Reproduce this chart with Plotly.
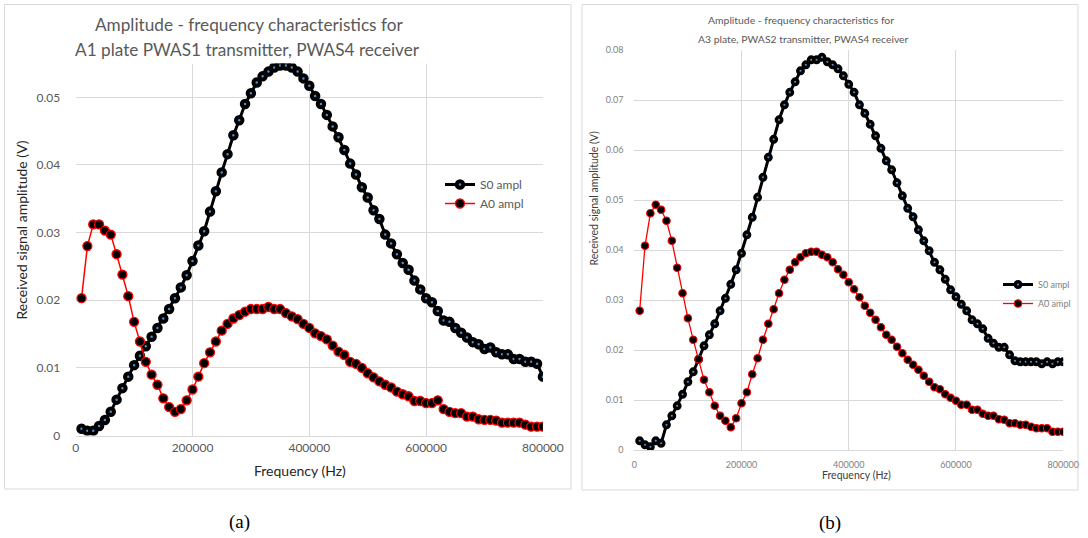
import plotly.graph_objects as go

W, H = 1088, 538

# ---------------- data ----------------
freq_hz = [10000, 20000, 30000, 40000, 50000, 60000, 70000, 80000, 90000, 100000,
           110000, 120000, 130000, 140000, 150000, 160000, 170000, 180000, 190000, 200000,
           210000, 220000, 230000, 240000, 250000, 260000, 270000, 280000, 290000, 300000,
           310000, 320000, 330000, 340000, 350000, 360000, 370000, 380000, 390000, 400000,
           410000, 420000, 430000, 440000, 450000, 460000, 470000, 480000, 490000, 500000,
           510000, 520000, 530000, 540000, 550000, 560000, 570000, 580000, 590000, 600000,
           610000, 620000, 630000, 640000, 650000, 660000, 670000, 680000, 690000, 700000,
           710000, 720000, 730000, 740000, 750000, 760000, 770000, 780000, 790000, 800000]

a1_s0 = [0.0010, 0.0007, 0.0007, 0.0014, 0.0023, 0.0035, 0.0053, 0.0070, 0.0087, 0.0104,
         0.0118, 0.0132, 0.0146, 0.0159, 0.0173, 0.0187, 0.0203, 0.0219, 0.0237, 0.0258,
         0.0281, 0.0302, 0.0331, 0.0361, 0.0389, 0.0416, 0.0444, 0.0466, 0.0490, 0.0506,
         0.0522, 0.0531, 0.0538, 0.0544, 0.0547, 0.0547, 0.0544, 0.0538, 0.0528, 0.0517,
         0.0502, 0.0490, 0.0474, 0.0457, 0.0441, 0.0422, 0.0402, 0.0386, 0.0367, 0.0352,
         0.0333, 0.0320, 0.0297, 0.0284, 0.0268, 0.0255, 0.0245, 0.0229, 0.0216, 0.0203,
         0.0197, 0.0184, 0.0170, 0.0168, 0.0159, 0.0152, 0.0145, 0.0138, 0.0135, 0.0128,
         0.0130, 0.0123, 0.0120, 0.0120, 0.0113, 0.0113, 0.0109, 0.0109, 0.0106, 0.0087]

a1_a0 = [0.0203, 0.0280, 0.0312, 0.0312, 0.0303, 0.0297, 0.0268, 0.0238, 0.0206, 0.0168,
         0.0139, 0.0109, 0.0090, 0.0075, 0.0055, 0.0042, 0.0035, 0.0039, 0.0052, 0.0068,
         0.0087, 0.0107, 0.0123, 0.0139, 0.0155, 0.0165, 0.0173, 0.0178, 0.0183, 0.0187,
         0.0187, 0.0187, 0.0190, 0.0187, 0.0187, 0.0181, 0.0176, 0.0172, 0.0165, 0.0159,
         0.0151, 0.0147, 0.0142, 0.0133, 0.0124, 0.0119, 0.0109, 0.0106, 0.0100, 0.0092,
         0.0086, 0.0080, 0.0075, 0.0071, 0.0065, 0.0061, 0.0058, 0.0051, 0.0051, 0.0048,
         0.0048, 0.0052, 0.0039, 0.0035, 0.0033, 0.0033, 0.0028, 0.0028, 0.0024, 0.0023,
         0.0023, 0.0022, 0.0019, 0.0019, 0.0019, 0.0019, 0.0016, 0.0013, 0.0013, 0.0013]

a3_s0 = [0.0019, 0.0011, 0.0007, 0.0019, 0.0014, 0.0051, 0.0069, 0.0089, 0.0112, 0.0137,
         0.0157, 0.0182, 0.0209, 0.0231, 0.0253, 0.0279, 0.0304, 0.0332, 0.0361, 0.0394,
         0.0431, 0.0466, 0.0506, 0.0546, 0.0586, 0.0622, 0.0661, 0.0691, 0.0716, 0.0737,
         0.0759, 0.0771, 0.0781, 0.0781, 0.0786, 0.0777, 0.0771, 0.0763, 0.0749, 0.0732,
         0.0716, 0.0691, 0.0674, 0.0652, 0.0629, 0.0604, 0.0579, 0.0561, 0.0535, 0.0509,
         0.0484, 0.0467, 0.0441, 0.0419, 0.0399, 0.0376, 0.0361, 0.0342, 0.0321, 0.0307,
         0.0292, 0.0279, 0.0261, 0.0253, 0.0243, 0.0224, 0.0214, 0.0206, 0.0206, 0.0191,
         0.0179, 0.0177, 0.0177, 0.0177, 0.0177, 0.0173, 0.0177, 0.0173, 0.0177, 0.0177]

a3_a0 = [0.0279, 0.0409, 0.0474, 0.0491, 0.0481, 0.0459, 0.0419, 0.0365, 0.0314, 0.0264,
         0.0221, 0.0182, 0.0141, 0.0116, 0.0089, 0.0069, 0.0059, 0.0046, 0.0064, 0.0094,
         0.0116, 0.0152, 0.0184, 0.0221, 0.0253, 0.0282, 0.0314, 0.0341, 0.0361, 0.0376,
         0.0386, 0.0394, 0.0397, 0.0397, 0.0391, 0.0386, 0.0376, 0.0362, 0.0351, 0.0336,
         0.0322, 0.0306, 0.0289, 0.0275, 0.0261, 0.0246, 0.0231, 0.0221, 0.0207, 0.0194,
         0.0181, 0.0171, 0.0161, 0.0149, 0.0137, 0.0126, 0.0122, 0.0112, 0.0105, 0.0099,
         0.0091, 0.0091, 0.0081, 0.0081, 0.0073, 0.0069, 0.0069, 0.0062, 0.0061, 0.0054,
         0.0054, 0.0051, 0.0051, 0.0047, 0.0044, 0.0044, 0.0044, 0.0037, 0.0037, 0.0037]

series_names = ["S0 ampl", "A0 ampl"]
x_ticks = [0, 200000, 400000, 600000, 800000]
y_ticks_a = [0, 0.01, 0.02, 0.03, 0.04, 0.05]
y_ticks_b = [0, 0.01, 0.02, 0.03, 0.04, 0.05, 0.06, 0.07, 0.08]
title_a = ["Amplitude - frequency characteristics for",
           "A1 plate PWAS1 transmitter, PWAS4 receiver"]
title_b = ["Amplitude - frequency characteristics for",
           "A3 plate, PWAS2 transmitter, PWAS4 receiver"]
x_title = "Frequency (Hz)"
y_title = "Received signal amplitude (V)"
captions = ["(a)", "(b)"]

# ---------------- helpers ----------------
def px(x):
    return x / W

def py(y):
    return 1 - y / H

FONT = "Lato"
GRID = "#d9d9d9"
BLUE = "#4a8ed0"
NOTICK = "rgba(0,0,0,0)"

fig = go.Figure()

fig.add_trace(go.Scatter(
    x=freq_hz, y=a1_s0, name=series_names[0], mode="lines+markers",
    xaxis="x", yaxis="y", legend="legend", legendgroup="a1s0",
    line=dict(color="black", width=3),
    marker=dict(symbol="circle", size=6.5, color=BLUE, line=dict(color="black", width=4)),
))
fig.add_trace(go.Scatter(
    x=freq_hz, y=a1_a0, name=series_names[1], mode="lines+markers",
    xaxis="x", yaxis="y", legend="legend", legendgroup="a1a0",
    line=dict(color="#ff0000", width=1.5),
    marker=dict(symbol="circle", size=9, color="black", line=dict(color="#ff0000", width=1.3)),
))
fig.add_trace(go.Scatter(
    x=freq_hz, y=a3_s0, name=series_names[0], mode="lines+markers",
    xaxis="x2", yaxis="y2", legend="legend2", legendgroup="a3s0",
    line=dict(color="black", width=3),
    marker=dict(symbol="circle", size=5.5, color=BLUE, line=dict(color="black", width=3.4)),
))
fig.add_trace(go.Scatter(
    x=freq_hz, y=a3_a0, name=series_names[1], mode="lines+markers",
    xaxis="x2", yaxis="y2", legend="legend2", legendgroup="a3a0",
    line=dict(color="#ff0000", width=1.3),
    marker=dict(symbol="circle", size=7.5, color="black", line=dict(color="#ff0000", width=1.1)),
))

tickfont_a = dict(family=FONT, size=12, color="#595959")
tickfont_b = dict(family=FONT, size=9, color="#7f7f7f")

common_axis = dict(showgrid=True, gridcolor=GRID, gridwidth=1, zeroline=False,
                   automargin=False, tickcolor=NOTICK, ticks="outside")

fig.update_layout(
    template="none",
    width=W, height=H, autosize=False,
    margin=dict(l=0, r=0, t=0, b=0, pad=0, autoexpand=False),
    paper_bgcolor="white", plot_bgcolor="white",
    showlegend=True,
    xaxis=dict(domain=[px(75.7), px(542.9)], range=[0, 800000], anchor="y",
               tickvals=x_ticks, tickformat="d", tickfont=tickfont_a,
               showline=True, linecolor=GRID, linewidth=1, ticklen=1, **common_axis),
    yaxis=dict(domain=[py(435.5), py(63.5)], range=[0, 0.055], anchor="x",
               tickvals=y_ticks_a, tickfont=tickfont_a,
               showline=False, ticklen=12, **common_axis),
    xaxis2=dict(domain=[px(634.3), px(1063.2)], range=[0, 800000], anchor="y2",
                tickvals=x_ticks, tickformat="d", tickfont=tickfont_b,
                showline=True, linecolor=GRID, linewidth=1, ticklen=6, **common_axis),
    yaxis2=dict(domain=[py(450.3), py(50.3)], range=[0, 0.08], anchor="x2",
                tickvals=y_ticks_b, tickfont=tickfont_b,
                showline=False, ticklen=8, **common_axis),
    legend=dict(x=px(440), y=py(170), xanchor="left", yanchor="top",
                font=dict(family=FONT, size=12, color="#595959"),
                bgcolor="rgba(0,0,0,0)", borderwidth=0, itemwidth=30, tracegroupgap=6,
                traceorder="normal"),
    legend2=dict(x=px(998), y=py(270), xanchor="left", yanchor="top",
                 font=dict(family=FONT, size=9, color="#7f7f7f"),
                 bgcolor="rgba(0,0,0,0)", borderwidth=0, itemwidth=30, tracegroupgap=0,
                 traceorder="normal"),
)

# frames around each chart
fig.add_shape(type="rect", xref="paper", yref="paper",
              x0=px(4.5), x1=px(571), y0=py(489), y1=py(4.5),
              line=dict(color=GRID, width=1), layer="below")
fig.add_shape(type="rect", xref="paper", yref="paper",
              x0=px(582), x1=px(1078), y0=py(490), y1=py(4.5),
              line=dict(color=GRID, width=1), layer="below")

def label(text, x, y, size, color, family=FONT, angle=0):
    return dict(text=text, x=px(x), y=py(y), xref="paper", yref="paper",
                showarrow=False, xanchor="center", yanchor="middle", textangle=angle,
                font=dict(family=family, size=size, color=color))

ann = [
    label(title_a[0], 249, 25, 17.2, "#595959"),
    label(title_a[1], 247, 50, 17.2, "#595959"),
    label(title_b[0], 801, 20, 10.4, "#595959"),
    label(title_b[1], 803, 39, 10.4, "#595959"),
    label(x_title, 300, 470, 14, "#262626"),
    label(x_title, 856, 475, 10.5, "#404040"),
    label(y_title, 21.5, 230, 14, "#262626", angle=-90),
    label(y_title, 593.5, 199, 10.5, "#404040", angle=-90),
    label(captions[0], 239, 522, 19, "black", family="Liberation Serif"),
    label(captions[1], 830, 523, 19, "black", family="Liberation Serif"),
]
fig.update_layout(annotations=ann)

fig.write_html("out.html", config={"displayModeBar": False})
